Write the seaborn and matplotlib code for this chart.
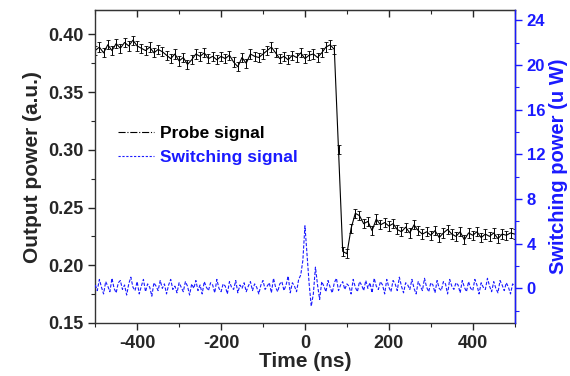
import numpy as np
import pandas as pd
import matplotlib
matplotlib.use("Agg")
import matplotlib.pyplot as plt
import seaborn as sns
from matplotlib.lines import Line2D
from matplotlib.ticker import MultipleLocator, FormatStrFormatter

# probe signal, every 10 ns from -500 to 500
probe_time = np.arange(-500, 501, 10)
probe_power = [
    0.386, 0.389, 0.384, 0.391, 0.386, 0.392, 0.388, 0.393, 0.390, 0.395,
    0.390, 0.388, 0.386, 0.389, 0.384, 0.387, 0.385, 0.382, 0.379, 0.383,
    0.377, 0.380, 0.374, 0.378, 0.383, 0.381, 0.384, 0.379, 0.381, 0.378,
    0.381, 0.379, 0.382, 0.376, 0.372, 0.380, 0.375, 0.383, 0.381, 0.380,
    0.383, 0.386, 0.389, 0.384, 0.379, 0.381, 0.378, 0.382, 0.380, 0.384,
    0.379, 0.382, 0.383, 0.380, 0.384, 0.389, 0.391, 0.387, 0.300, 0.212,
    0.210, 0.232, 0.245, 0.243, 0.236, 0.238, 0.230, 0.240, 0.235, 0.237,
    0.234, 0.236, 0.231, 0.229, 0.233, 0.228, 0.235, 0.230, 0.227, 0.229,
    0.226, 0.230, 0.224, 0.228, 0.231, 0.227, 0.225, 0.229, 0.222, 0.228,
    0.226, 0.229, 0.224, 0.227, 0.225, 0.228, 0.223, 0.227, 0.226, 0.228,
    0.227,
]
probe_err = 0.004

# switching signal, every 5 ns from -500 to 500 (uW)
switch_time = np.arange(-500, 501, 5)
switch_power = [
    0.3, -0.2, 0.8, 0.1, -0.5, 0.6, 0.2, -0.3, 0.9, 0.0,
    -0.4, 0.5, 0.7, -0.1, 0.3, -0.6, 0.4, 1.0, 0.1, -0.2,
    0.6, -0.5, 0.2, 0.8, -0.3, 0.4, 0.1, -0.7, 0.5, 0.2,
    -0.2, 0.7, 0.0, 0.4, -0.5, 0.3, 0.8, -0.1, 0.2, -0.4,
    0.5, 0.1, -0.3, 0.6, 0.2, -0.6, 0.4, 0.0, 0.7, -0.2,
    0.3, -0.5, 0.6, 0.1, -0.2, 0.5, 0.3, -0.4, 0.8, 0.0,
    -0.3, 0.4, 0.2, -0.5, 0.6, 0.1, -0.1, 0.7, -0.4, 0.3,
    0.0, 0.5, -0.3, 0.2, 0.6, -0.2, 0.4, 0.1, -0.5, 0.3,
    0.7, -0.1, 0.2, 0.5, -0.4, 0.9, 0.1, -0.3, 0.4, 0.6,
    -0.2, 0.3, 1.1, -0.4, 0.5, 0.2, -0.3, 0.8, 1.2, 2.5,
    5.6, 3.0, 0.4, -1.6, -0.5, 1.9, 0.3, -1.0, 0.6, 0.2,
    -0.3, 0.7, 0.1, -0.4, 0.5, 0.9, -0.2, 0.3, 0.6, -0.1,
    0.4, 0.2, -0.5, 0.8, 0.1, -0.3, 0.6, 0.3, -0.2, 0.7,
    0.0, 0.5, -0.4, 0.9, 0.2, -0.1, 0.6, 0.3, -0.5, 0.8,
    0.1, -0.3, 0.7, 0.4, -0.2, 1.0, 0.2, -0.4, 0.5, 0.3,
    -0.1, 0.8, 0.0, -0.5, 0.6, 0.2, -0.2, 0.9, 0.1, -0.3,
    0.5, 0.3, -0.4, 0.7, 0.0, -0.2, 0.6, 0.4, -0.5, 0.8,
    0.2, -0.1, 0.5, 0.3, -0.4, 0.7, 0.1, -0.3, 0.6, 0.0,
    -0.2, 0.8, 0.3, -0.5, 0.5, 0.1, -0.1, 0.9, 0.2, -0.3,
    0.6, 0.0, -0.4, 0.7, 0.3, -0.2, 0.5, 0.1, -0.5, 0.4,
    0.2,
]

probe_df = pd.DataFrame({"time": probe_time, "power": probe_power})
switch_df = pd.DataFrame({"time": switch_time, "power": switch_power})

sns.set_style("ticks")
plt.rcParams["font.family"] = ["Liberation Sans", "DejaVu Sans"]
plt.rcParams["font.weight"] = "bold"
plt.rcParams["axes.unicode_minus"] = False

blue = "#1a1aff"

fig = plt.figure(figsize=(5.7, 3.76), dpi=100)
ax = fig.add_axes([0.167, 0.141, 0.736, 0.832])
ax2 = ax.twinx()

# probe signal on the left axis
sns.lineplot(data=probe_df, x="time", y="power", ax=ax, color="black",
             linewidth=0.8)
ax.errorbar(probe_df["time"], probe_df["power"], yerr=probe_err, fmt="none",
            ecolor="black", elinewidth=0.7, capsize=1.2, capthick=0.6)

# switching signal on the right axis
sns.lineplot(data=switch_df, x="time", y="power", ax=ax2, color=blue,
             linewidth=0.8, linestyle=(0, (3, 1.5)))

ax.set_xlim(-500, 500)
ax.set_ylim(0.15, 0.421)
ax2.set_ylim(-3.1, 24.9)

ax.xaxis.set_major_locator(MultipleLocator(200))
ax.xaxis.set_minor_locator(MultipleLocator(100))
ax.yaxis.set_major_locator(MultipleLocator(0.05))
ax.yaxis.set_minor_locator(MultipleLocator(0.025))
ax2.yaxis.set_major_locator(MultipleLocator(4))
ax2.yaxis.set_minor_locator(MultipleLocator(2))
ax.yaxis.set_major_formatter(FormatStrFormatter("%.2f"))

ax.tick_params(axis="both", which="major", labelsize=13, length=5, width=1,
               direction="out")
ax.tick_params(axis="both", which="minor", length=3, width=0.8,
               direction="out")

# inward ticks along the top
top = ax.secondary_xaxis("top")
top.xaxis.set_major_locator(MultipleLocator(200))
top.xaxis.set_minor_locator(MultipleLocator(100))
top.tick_params(which="major", direction="in", length=5, width=1,
                labeltop=False)
top.tick_params(which="minor", direction="in", length=3, width=0.8)
top.spines["top"].set_color("#333333")

ax2.tick_params(axis="y", which="major", labelsize=12, length=5, width=1,
                colors=blue, direction="out")
ax2.tick_params(axis="y", which="minor", length=3, width=0.8, colors=blue,
                direction="out")

for s in ax.spines.values():
    s.set_color("#333333")
    s.set_linewidth(1.0)
ax2.spines["right"].set_color(blue)
ax2.spines["right"].set_linewidth(1.0)
ax2.spines["left"].set_visible(False)
ax2.spines["top"].set_visible(False)
ax2.spines["bottom"].set_visible(False)

ax.set_xlabel("Time (ns)", fontsize=15, fontweight="bold", labelpad=0)
ax.set_ylabel("Output power (a.u.)", fontsize=15, fontweight="bold", labelpad=4)
ax2.set_ylabel("Switching power (u W)", fontsize=14.5, fontweight="bold",
               color=blue, labelpad=3)

handles = [Line2D([], [], color="black", linewidth=0.8, linestyle="-."),
           Line2D([], [], color=blue, linewidth=0.8, linestyle=(0, (2, 1.5)))]
leg = ax.legend(handles, ["Probe signal", "Switching signal"], frameon=False,
                loc="upper left", bbox_to_anchor=(0.025, 0.67), fontsize=12.5,
                handlelength=2.1, handletextpad=0.35, labelspacing=0.55,
                borderpad=0.2)
for txt, c in zip(leg.get_texts(), ["black", blue]):
    txt.set_color(c)
    txt.set_fontweight("bold")

fig.savefig("out.png", dpi=100)
